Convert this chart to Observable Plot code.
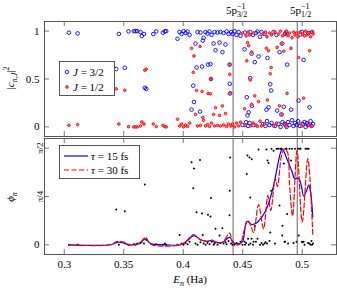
<!DOCTYPE html>
<html><head><meta charset="utf-8">
<script src="https://cdn.jsdelivr.net/npm/d3@7"></script>
<script src="https://cdn.jsdelivr.net/npm/@observablehq/plot@0.6"></script>
<style>
html,body{margin:0;padding:0;background:#fff;}
#chart{position:relative;width:337px;height:288px;overflow:hidden;font-family:"Liberation Serif","DejaVu Serif",serif;color:#000;}
#chart svg{position:absolute;left:0;overflow:visible;}
.t{position:absolute;white-space:nowrap;line-height:1;font-size:11px;}
.i{font-style:italic;}
.leg{position:absolute;background:#fff;border:1px solid #555;box-sizing:border-box;}
.row{position:absolute;left:0;height:12px;display:flex;align-items:center;font-size:11px;white-space:nowrap;}
.stk{display:inline-block;vertical-align:middle;font-size:8px;line-height:1.05;text-align:left;}
.stk span{display:block;}
</style></head>
<body><div id="chart"></div>
<script>
// ---- data ----
const energies = [
0.3039,0.3112,0.3437,0.3459,0.3509,0.3540,0.3585,0.3599,0.3613,0.3641,0.3652,0.3670,0.3677,0.3689,0.3748,0.3773,0.3829,0.3845,0.3857,
0.3952,0.3969,0.3986,0.4003,0.4019,0.4036,0.4053,0.4070,0.4084,0.4090,0.4103,0.4112,0.4120,0.4141,0.4145,0.4158,0.4164,0.4171,0.4187,0.4204,0.4208,0.4221,0.4229,0.4233,0.4238,0.4255,0.4263,0.4271,0.4288,0.4305,0.4313,0.4329,0.4339,0.4355,0.4364,0.4381,0.4389,0.4391,0.4394,
0.4402,0.4414,0.4431,0.4448,0.4465,0.4481,0.4498,0.4515,0.4519,0.4528,0.4534,0.4540,0.4545,0.4550,0.4557,0.4563,0.4565,0.4574,0.4576,0.4586,0.4591,0.4601,0.4611,0.4624,0.4633,0.4645,0.4658,0.4670,0.4683,0.4691,0.4699,0.4704,0.4708,0.4717,0.4725,0.4731,0.4739,0.4742,0.4759,0.4771,0.4784,0.4789,0.4801,0.4809,0.4818,0.4824,0.4832,0.4834,
0.4845,0.4851,0.4855,0.4864,0.4868,0.4873,0.4881,0.4893,0.4906,0.4914,0.4927,0.4939,0.4952,0.4965,0.4970,0.4981,0.4986,0.4998,0.5003,0.5011,0.5019,0.5028,0.5040,0.5049,0.5053,0.5061,0.5070,0.5078,0.5083,0.5091];
const weightJ32 = [
0.983,0.976,0.603,0.970,0.617,0.997,1.0,1.0,1.0,0.990,0.948,0.970,0.408,0.397,0.969,0.997,0.983,0.997,1.0,
0.92,0.99,0.97,1.0,0.98,0.995,0.96,0.18,0.43,0.26,0.87,0.62,0.99,0.16,0.985,0.63,0.90,0.93,0.99,0.975,0.65,0.995,0.655,0.50,0.96,0.87,0.99,0.80,0.985,0.88,0.99,0.78,0.98,0.86,0.995,0.97,0.65,0.45,0.35,
0.99,0.97,1.0,0.96,0.99,0.95,0.02,0.81,0.985,0.05,0.31,0.12,0.01,0.153,0.04,0.51,0.99,0.764,0.22,0.96,0.02,0.676,0.98,0.995,0.735,0.94,0.99,0.03,0.97,0.01,0.18,0.06,0.72,0.205,0.02,0.445,0.38,0.04,0.99,0.01,0.96,0.17,0.03,0.78,0.0,0.13,0.87,0.05,
0.21,0.03,0.97,0.99,0.0,0.65,0.05,0.02,0.18,0.07,0.01,0.04,0.02,0.06,0.275,0.01,0.965,0.99,0.03,0.70,0.05,0.0,0.04,0.02,0.98,0.205,0.06,0.01,0.99,0.03];
const weightJ12 = [
0.017,0.024,0.397,0.030,0.383,0.003,0.0,0.0,0.0,0.010,0.052,0.030,0.592,0.603,0.031,0.003,0.017,0.003,0.0,
0.08,0.01,0.03,0.0,0.02,0.005,0.04,0.82,0.57,0.74,0.13,0.38,0.01,0.84,0.015,0.37,0.10,0.07,0.01,0.025,0.35,0.005,0.345,0.50,0.04,0.13,0.01,0.20,0.015,0.12,0.01,0.22,0.02,0.14,0.005,0.03,0.35,0.55,0.65,
0.01,0.03,0.0,0.04,0.01,0.05,0.98,0.19,0.015,0.95,0.69,0.88,0.99,0.847,0.96,0.49,0.01,0.236,0.78,0.04,0.98,0.324,0.02,0.005,0.265,0.06,0.01,0.97,0.03,0.99,0.82,0.94,0.28,0.795,0.98,0.555,0.62,0.96,0.01,0.99,0.04,0.83,0.97,0.22,1.0,0.87,0.13,0.95,
0.79,0.97,0.03,0.01,1.0,0.35,0.95,0.98,0.82,0.93,0.99,0.96,0.98,0.94,0.725,0.99,0.035,0.01,0.97,0.30,0.95,1.0,0.96,0.98,0.02,0.795,0.94,0.99,0.01,0.97];
const phases = [
0,0,0.574,0,0.546,0,0.01,0,0.02,0.03,0.05,0.02,0.98,0.08,0,0.01,0,0.02,0,
0,0.16,0.02,0,0.03,0.01,0.05,1.34,0.92,1.24,0.02,0.53,0,1.38,0.04,0.51,0.16,0.02,0,0.03,0.49,0.01,0.46,0.76,0.05,0,0.02,0.26,0,0.15,0.03,0.27,0.02,0.04,0.01,0.06,0.48,0.88,1.42,
0.02,0,0,0.03,0.01,0.05,0,0.05,0,0.03,1.15,1.45,0.1,0,1.42,0.77,0.02,0.1,1.39,0,0.05,0.3,0.05,0.1,1.55,0,0.03,0,0.02,0.04,1.55,0.02,1.37,1.33,0.06,0.2,0.88,1.56,1.53,0.02,1.56,1.56,1.56,0.64,1.56,1.56,0.15,0.31,
1.32,0.05,0.05,1.56,1.56,0.50,0.02,1.56,1.37,1.56,0.03,1.56,0.05,1.56,0.15,1.56,1.56,0.05,0.04,0.05,0,1.56,1.56,0.03,1.56,0.02,0,0.06,0,0.02];
const thresholds = [0.4419, 0.4958];
const thresholdSubs = ["3/2", "1/2"];
const tau15E = [0.3036,0.3389,0.3448,0.3490,0.3540,0.3624,0.3683,0.3725,0.3851,0.3977,0.4036,0.4087,0.4145,0.4204,0.4229,0.4271,0.4330,0.4389,0.4423,0.4465,0.4498,0.4535,0.4577,0.4619,0.4647,0.4661,0.4711,0.4759,0.4818,0.4835,0.4860,0.4887,0.4916,0.4935,0.4971,0.4992,0.5013,0.5036,0.5055,0.5070,0.5089];
const tau15Phase = [0,0,0.04,0.035,0,0.02,0.095,0.02,0,0,0.07,0.15,0.085,0.05,0.07,0.04,0.04,0.12,0.035,0.015,0.05,0.38,0.33,0.36,0.42,0.45,0.64,0.96,1.50,1.56,1.45,1.32,1.18,1.08,1.08,0.96,0.79,0.88,0.97,0.86,0.45];
const tau30E = [0.3036,0.3389,0.3440,0.3498,0.3549,0.3633,0.3683,0.3725,0.3977,0.4036,0.4087,0.4145,0.4204,0.4238,0.4280,0.4330,0.4389,0.4414,0.4448,0.4482,0.4507,0.4543,0.4566,0.4591,0.4633,0.4675,0.4711,0.4736,0.4773,0.4792,0.4826,0.4851,0.4877,0.4893,0.4919,0.4956,0.5000,0.5047,0.5089];
const tau30Phase = [0,0,0.05,0.045,0,0.02,0.12,0.01,0,0.08,0.167,0.08,0.06,0.08,0.04,0.04,0.19,0.04,0,0.02,0.2,0.395,0.32,0.2,0.65,0.26,0.80,0.56,1.07,0.95,1.45,1.56,1.50,1.0,0.47,1.53,0.37,1.40,0.15];
const energyTicks = [0.3, 0.35, 0.4, 0.45, 0.5];
const energyTickLabels = ["0.3", "0.35", "0.4", "0.45", "0.5"];
const weightTicks = [0, 0.5, 1];
const weightTickLabels = ["0", "0.5", "1"];
const phaseTicks = [0, Math.PI / 4, Math.PI / 2];
const phaseTickLabels = ["0", "π/4", "π/2"];

// ---- tables ----
const states = energies.map((E, i) => ({E, w32: weightJ32[i], w12: weightJ12[i], phi: phases[i]}));
const c15 = tau15E.map((E, i) => ({E, phi: tau15Phase[i]}));
const c30 = tau30E.map((E, i) => ({E, phi: tau30Phase[i]}));

const W = 337, ML = 44, MR = 1;
const FW = W - ML - MR;
const xDomain = [0.2834, 0.5288];
const frameColor = "#555";
const tickLen = 5;
const font = {fontFamily: "Liberation Serif, DejaVu Serif, serif", fontSize: "11px", background: "transparent", overflow: "visible"};

function inwardTicks(yTicks, xTicks, fh) {
  return [
    Plot.ruleY(yTicks, {insetRight: FW - tickLen, stroke: frameColor, strokeWidth: 0.8}),
    Plot.ruleY(yTicks, {insetLeft: FW - tickLen, stroke: frameColor, strokeWidth: 0.8}),
    Plot.ruleX(xTicks, {insetBottom: fh - tickLen, stroke: frameColor, strokeWidth: 0.8}),
    Plot.ruleX(xTicks, {insetTop: fh - tickLen, stroke: frameColor, strokeWidth: 0.8})
  ];
}

// top panel
const TH = 138, TMT = 21, TMB = 2;
const topPlot = Plot.plot({
  width: W, height: TH, marginTop: TMT, marginBottom: TMB, marginLeft: ML, marginRight: MR,
  style: font,
  x: {domain: xDomain, axis: null, label: null},
  y: {domain: [-0.1, 1.1], label: null},
  marks: [
    ...inwardTicks(weightTicks, energyTicks, TH - TMT - TMB),
    Plot.ruleX(thresholds, {stroke: "#666", strokeWidth: 1}),
    Plot.dot(states, {x: "E", y: "w32", r: 1.8, stroke: "#0000ff", strokeWidth: 0.9, fill: "none"}),
    Plot.dot(states, {x: "E", y: "w12", r: 1.3, stroke: "#ff0000", strokeWidth: 0.9, fill: "#ff8080"}),
    Plot.axisY(weightTicks, {tickSize: 0, tickPadding: 5, label: null, tickFormat: (d, i) => weightTickLabels[i], fontSize: 11}),
    Plot.frame({stroke: frameColor, strokeWidth: 1})
  ]
});
topPlot.style.top = "0px";

// bottom panel
const BH = 152, BMT = 1, BMB = 35;
const botPlot = Plot.plot({
  width: W, height: BH, marginTop: BMT, marginBottom: BMB, marginLeft: ML, marginRight: MR,
  style: font,
  x: {domain: xDomain, label: null},
  y: {domain: [-0.158, 1.728], label: null},
  marks: [
    ...inwardTicks(phaseTicks, energyTicks, BH - BMT - BMB),
    Plot.ruleX(thresholds, {stroke: "#666", strokeWidth: 1}),
    Plot.dot(states, {x: "E", y: "phi", r: 1, fill: "#000", stroke: "none"}),
    Plot.line(c15, {x: "E", y: "phi", stroke: "#0000ff", strokeWidth: 1.2, curve: "catmull-rom"}),
    Plot.line(c30, {x: "E", y: "phi", stroke: "#ff0000", strokeWidth: 1.2, strokeDasharray: "5,2.5", curve: "catmull-rom"}),
    Plot.axisX(energyTicks, {tickSize: 0, tickPadding: 6, label: null, tickFormat: (d, i) => energyTickLabels[i], fontSize: 11}),
    Plot.axisY(phaseTicks.slice(0, 1), {tickSize: 0, tickPadding: 5, label: null, tickFormat: (d, i) => phaseTickLabels[i], fontSize: 11}),
    Plot.axisY(phaseTicks.slice(1), {tickSize: 0, tickPadding: 2, label: null, tickRotate: -90, tickFormat: (d, i) => phaseTickLabels[i + 1], fontSize: 9}),
    Plot.frame({stroke: frameColor, strokeWidth: 1})
  ]
});
botPlot.style.top = (TH - 1) + "px";

const chart = document.getElementById("chart");
chart.appendChild(topPlot);
chart.appendChild(botPlot);

function addText(html, left, top, extra = "") {
  const d = document.createElement("div");
  d.className = "t";
  d.innerHTML = html;
  d.style.left = left + "px";
  d.style.top = top + "px";
  d.style.transform = "translate(-50%,-50%) " + extra;
  chart.appendChild(d);
  return d;
}

// threshold annotations
const xs = topPlot.scale("x");
thresholds.forEach((t, i) => {
  addText(`5p<span class="stk"><span>−1</span><span>${thresholdSubs[i]}</span></span>`, xs.apply(t) + 4, 11);
});

// axis titles
addText(`|<span class="i">c</span><sub style="font-size:8px"><span class="i">n</span>,<span class="i">J</span></sub>|<sup style="font-size:8px">2</sup>`, 11, 78, "rotate(-90deg)");
addText(`<span class="i">ϕ</span><sub style="font-size:8px" class="i">n</sub>`, 12, 197, "rotate(-90deg)");
addText(`<span class="i">E</span><sub style="font-size:8px" class="i">n</sub> (Ha)`, 190, 281);

// legends
const leg1 = document.createElement("div");
leg1.className = "leg";
Object.assign(leg1.style, {left: "59px", top: "61px", width: "56px", height: "35px"});
leg1.innerHTML =
  `<div class="row" style="top:4px;left:3px"><svg width="8" height="8" style="position:static"><circle cx="4" cy="4" r="1.8" fill="none" stroke="#0000ff" stroke-width="0.9"/></svg><span style="margin-left:2px"><span class="i">J</span> = 3/2</span></div>` +
  `<div class="row" style="top:19px;left:3px"><svg width="8" height="8" style="position:static"><circle cx="4" cy="4" r="1.3" fill="#ff8080" stroke="#ff0000" stroke-width="0.9"/></svg><span style="margin-left:2px"><span class="i">J</span> = 1/2</span></div>`;
chart.appendChild(leg1);

const leg2 = document.createElement("div");
leg2.className = "leg";
Object.assign(leg2.style, {left: "59px", top: "145px", width: "81px", height: "34px"});
leg2.innerHTML =
  `<div class="row" style="top:4px;left:4px"><svg width="24" height="6" style="position:static"><line x1="0" y1="3" x2="24" y2="3" stroke="#0000ff" stroke-width="1.2"/></svg><span style="margin-left:3px"><span class="i">τ</span> = 15 fs</span></div>` +
  `<div class="row" style="top:18px;left:4px"><svg width="24" height="6" style="position:static"><line x1="0" y1="3" x2="24" y2="3" stroke="#ff0000" stroke-width="1.2" stroke-dasharray="5,2.5"/></svg><span style="margin-left:3px"><span class="i">τ</span> = 30 fs</span></div>`;
chart.appendChild(leg2);
</script>
</body></html>
